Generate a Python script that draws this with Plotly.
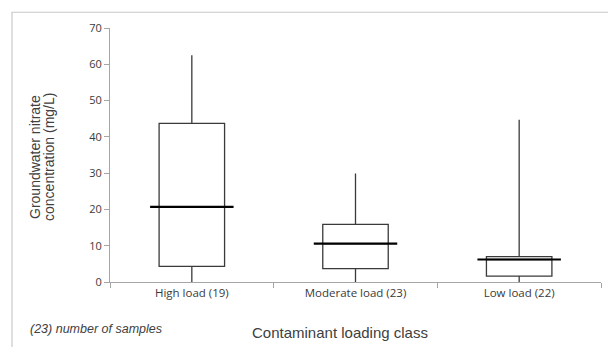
import plotly.graph_objects as go

categories = ["High load (19)", "Moderate load (23)", "Low load (22)"]
lower_fence = [0.0, 0.0, 0.0]
q1 = [4.3, 3.7, 1.6]
median = [20.7, 10.6, 6.2]
q3 = [43.7, 15.9, 7.0]
upper_fence = [62.5, 29.9, 44.7]
y_ticks = [0, 10, 20, 30, 40, 50, 60, 70]

# plot area in page pixels: x 110..601, y 24..282 (page body has 8px margin)
PX0, PX1, PY0, PY1 = 110, 601, 24, 282
def px(x):
    return (x - PX0) / (PX1 - PX0)
def py(y):
    return (PY1 - y) / (PY1 - PY0)

fig = go.Figure()
for i, cat in enumerate(categories):
    fig.add_trace(go.Box(
        x=[cat], q1=[q1[i]], median=[median[i]], q3=[q3[i]],
        lowerfence=[lower_fence[i]], upperfence=[upper_fence[i]],
        width=0.4, whiskerwidth=0, fillcolor="white",
        line=dict(color="#3a3a3a", width=1.3), showlegend=False,
        hoverinfo="skip",
    ))
half = 0.255
for i in range(len(categories)):
    fig.add_trace(go.Scatter(
        x=[i - half, i + half], y=[median[i], median[i]], mode="lines", xaxis="x2",
        line=dict(color="black", width=2.2), showlegend=False, hoverinfo="skip",
    ))

grey = "#a6a6a6"
fig.update_layout(
    width=616, height=347,
    margin=dict(l=102, r=23, t=16, b=73),
    paper_bgcolor="white", plot_bgcolor="white",
    font=dict(family="Open Sans", color="#404040"),
    xaxis=dict(
        type="category", categoryorder="array", categoryarray=categories,
        range=[-0.5, 2.5], tickson="boundaries",
        ticks="outside", ticklen=5, tickcolor=grey,
        showgrid=False, zeroline=False, showline=True,
        linecolor=grey, linewidth=1,
        tickfont=dict(family="Open Sans", size=11.5, color="#3a3a3a"),
    ),
    xaxis2=dict(overlaying="x", range=[-0.5, 2.5], visible=False),
    yaxis=dict(
        range=[0, 70], tickmode="array", tickvals=y_ticks,
        ticks="outside", ticklen=5, tickcolor=grey,
        showgrid=False, zeroline=False, showline=True,
        linecolor=grey, linewidth=1,
        tickfont=dict(family="Open Sans", size=11, color="#3a3a3a"),
    ),
    shapes=[dict(type="rect", xref="paper", yref="paper",
                 x0=px(12), x1=px(615), y0=py(360), y1=py(8),
                 line=dict(color="#c8c8c8", width=1.2), fillcolor="rgba(0,0,0,0)")],
    annotations=[
        dict(text="Groundwater nitrate", textangle=-90, xref="paper", yref="paper",
             x=px(35), y=py(155), xanchor="center", yanchor="middle", showarrow=False,
             font=dict(family="Liberation Sans", size=14, color="#404040")),
        dict(text="concentration (mg/L)", textangle=-90, xref="paper", yref="paper",
             x=px(49), y=py(155), xanchor="center", yanchor="middle", showarrow=False,
             font=dict(family="Liberation Sans", size=14, color="#404040")),
        dict(text="Contaminant loading class", xref="paper", yref="paper",
             x=px(340), y=py(333), xanchor="center", yanchor="middle", showarrow=False,
             font=dict(family="Liberation Sans", size=15, color="#404040")),
        dict(text="<i>(23) number of samples</i>", xref="paper", yref="paper",
             x=px(28), xanchor="left", y=py(330), yanchor="middle", showarrow=False,
             font=dict(family="Liberation Sans", size=12.5, color="#404040")),
    ],
)
fig.write_html("out.html")
